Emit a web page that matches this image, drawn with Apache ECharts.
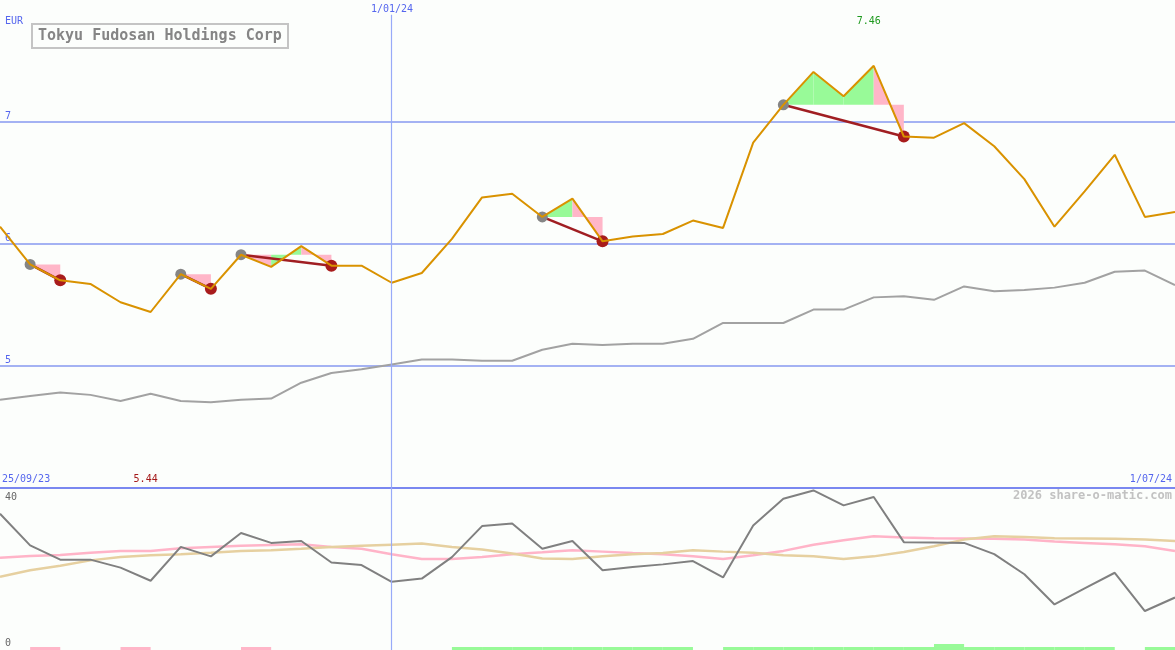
<!DOCTYPE html>
<html><head><meta charset="utf-8">
<script src="https://cdn.jsdelivr.net/npm/echarts@6/dist/echarts.min.js"></script>
<style>html,body{margin:0;padding:0;background:#fcfefc;overflow:hidden}#c{width:1175px;height:650px}</style>
</head><body><div id="c"></div><script>
// ---------- data ----------
const title = 'Tokyu Fudosan Holdings Corp';
const currency = 'EUR';
const startLabel = '25/09/23';
const midLabel = '1/01/24';
const endLabel = '1/07/24';
const midWeek = 13;          // week index of 1/01/24
const lastWeek = 39;         // week index of 1/07/24
const credit = '2026 share-o-matic.com';

const price = [6.14, 5.83, 5.70, 5.67, 5.52, 5.44, 5.75, 5.63, 5.91, 5.81,
               5.98, 5.82, 5.82, 5.68, 5.76, 6.04, 6.38, 6.41, 6.22, 6.37,
               6.02, 6.06, 6.08, 6.19, 6.13, 6.83, 7.14, 7.41, 7.21, 7.46,
               6.88, 6.87, 6.99, 6.80, 6.53, 6.14, 6.43, 6.73, 6.22, 6.26];
const average = [4.72, 4.75, 4.78, 4.76, 4.71, 4.77, 4.71, 4.70, 4.72, 4.73,
                 4.86, 4.94, 4.97, 5.01, 5.05, 5.05, 5.04, 5.04, 5.13, 5.18,
                 5.17, 5.18, 5.18, 5.22, 5.35, 5.35, 5.35, 5.46, 5.46, 5.56,
                 5.57, 5.54, 5.65, 5.61, 5.62, 5.64, 5.68, 5.77, 5.78, 5.66];
const oscMain = [36.6, 27.9, 24.0, 24.0, 21.8, 18.2, 27.5, 24.9, 31.3, 28.6,
                 29.1, 23.2, 22.5, 17.9, 18.8, 24.7, 33.2, 33.9, 27.0, 29.1,
                 21.1, 22.0, 22.7, 23.6, 19.1, 33.4, 40.7, 43.0, 38.9, 41.2,
                 28.8, 28.7, 28.6, 25.5, 20.0, 11.7, 16.1, 20.4, 9.9, 13.6];
const oscPink = [24.5, 25.0, 25.3, 25.9, 26.4, 26.4, 27.1, 27.5, 27.8, 28.0,
                 28.2, 27.5, 27.0, 25.5, 24.2, 24.2, 24.7, 25.5, 26.0, 26.6,
                 26.2, 25.8, 25.5, 24.9, 24.2, 25.2, 26.4, 28.1, 29.3, 30.4,
                 30.1, 29.9, 29.8, 29.7, 29.5, 29.0, 28.6, 28.2, 27.7, 26.4];
const oscTan = [19.3, 21.1, 22.3, 23.8, 24.7, 25.2, 25.5, 25.9, 26.4, 26.6,
                27.0, 27.5, 27.8, 28.1, 28.4, 27.5, 26.8, 25.7, 24.3, 24.2,
                24.9, 25.5, 25.8, 26.6, 26.2, 25.9, 25.2, 24.9, 24.2, 24.9,
                26.1, 27.7, 29.5, 30.4, 30.2, 29.9, 29.8, 29.7, 29.5, 29.1];
// trades: [entry week, exit week]
const trades = [[1, 2], [6, 7], [8, 11], [18, 20], [26, 30]];
// signal strip per weekly interval: 0 none, 1 sell(pink), 2 buy(green), 3 strong buy
const signalStrip = [0, 1, 0, 0, 1, 0, 0, 0, 1, 0,
                     0, 0, 0, 0, 0, 2, 2, 2, 2, 2,
                     2, 2, 2, 0, 2, 2, 2, 2, 2, 2,
                     2, 3, 2, 2, 2, 2, 2, 0, 2];
const priceTicks = [5, 6, 7];
const oscTicks = [0, 40];

// ---------- styles ----------
const MONO = '"DejaVu Sans Mono", monospace';
const BLUE_TXT = '#5566ee';
const GRID_BLUE = '#a4b2f3';
const SEP_BLUE = '#7a88f0';
const VLINE_BLUE = '#98aaf8';
const GREEN_FILL = '#98fa98';
const PINK_FILL = '#ffb6c8';

const chart = echarts.init(document.getElementById('c'), null, {renderer: 'canvas'});
const pairs = arr => arr.map((v, i) => [i, v]);

const maxIdx = price.indexOf(Math.max(...price));
const minIdx = price.indexOf(Math.min(...price));

const option = {
  backgroundColor: '#fcfefc',
  animation: false,
  grid: [
    {left: 0, right: 0, top: 0, height: 487.5},
    {left: 0, right: 0, top: 487.5, bottom: 0}
  ],
  xAxis: [
    {type: 'value', gridIndex: 0, min: 0, max: lastWeek, show: false},
    {type: 'value', gridIndex: 1, min: 0, max: lastWeek, position: 'top',
     axisLine: {show: true, onZero: false, lineStyle: {color: SEP_BLUE, width: 2}},
     axisTick: {show: false}, axisLabel: {show: false}, splitLine: {show: false}}
  ],
  yAxis: [
    {type: 'value', gridIndex: 0, min: 4, max: 8, interval: 1,
     axisLine: {show: false}, axisTick: {show: false},
     splitLine: {show: true, showMinLine: false, showMaxLine: false, lineStyle: {color: GRID_BLUE, width: 2}},
     axisLabel: {inside: true, margin: 5, verticalAlign: 'bottom', color: BLUE_TXT,
                 fontFamily: MONO, fontSize: 10,
                 formatter: v => priceTicks.includes(v) ? String(v) : ''}},
    {type: 'value', gridIndex: 1, min: -0.8, max: 43.8,
     show: false}
  ],
  graphic: [
    {type: 'text', left: 5, top: 16, style: {text: currency, fill: BLUE_TXT, font: '10px ' + MONO}},
    {type: 'rect', shape: {x: 32, y: 24, width: 256, height: 24},
     style: {fill: '#fcfefc', stroke: '#c4c4c4', lineWidth: 2}, z: 10},
    {type: 'text', x: 38, y: 36, z: 11,
     style: {text: title, fill: '#858585', font: 'bold 15px ' + MONO, verticalAlign: 'middle'}},
    {type: 'text', x: 392, y: 9, z: 11,
     style: {text: midLabel, fill: BLUE_TXT, font: '10px ' + MONO, align: 'center', verticalAlign: 'middle',
             backgroundColor: '#fcfefc'}},
    {type: 'text', x: 2, y: 479, z: 11,
     style: {text: startLabel, fill: BLUE_TXT, font: '10px ' + MONO, verticalAlign: 'middle'}},
    {type: 'text', x: 1172, y: 479, z: 11,
     style: {text: endLabel, fill: BLUE_TXT, font: '10px ' + MONO, align: 'right', verticalAlign: 'middle'}},
    {type: 'text', x: 1172, y: 496, z: 11,
     style: {text: credit, fill: '#c2c2c2', font: 'bold 12px ' + MONO, align: 'right', verticalAlign: 'middle'}}
  ],
  series: [
    // trade area fills
    {type: 'custom', xAxisIndex: 0, yAxisIndex: 0, z: 1,
     data: trades,
     renderItem(params, api) {
       const s = api.value(0), e = api.value(1);
       const E = price[s];
       const children = [];
       for (let k = s; k < e; k++) {
         const p0 = price[k], p1 = price[k + 1];
         children.push({type: 'polygon',
           shape: {points: [api.coord([k, p0]), api.coord([k, E]), api.coord([k + 1, E]), api.coord([k + 1, p1])]},
           style: {fill: p1 > E ? GREEN_FILL : PINK_FILL}});
       }
       return {type: 'group', children};
     }},
    // vertical date line top panel + moving average
    {type: 'line', xAxisIndex: 0, yAxisIndex: 0, z: 2, data: pairs(average),
     showSymbol: false, lineStyle: {color: '#a2a2a2', width: 2},
     markLine: {silent: true, symbol: 'none', label: {show: false},
       lineStyle: {color: VLINE_BLUE, width: 1.2, type: 'solid', opacity: 1},
       data: [[{coord: [midWeek, 7.88]}, {coord: [midWeek, 4]}]]}},
    // trade connectors + markers
    {type: 'custom', xAxisIndex: 0, yAxisIndex: 0, z: 3,
     data: trades,
     renderItem(params, api) {
       const s = api.value(0), e = api.value(1);
       const a = api.coord([s, price[s]]), b = api.coord([e, price[e]]);
       return {type: 'group', children: [
         {type: 'line', shape: {x1: a[0], y1: a[1], x2: b[0], y2: b[1]}, style: {stroke: '#a01e22', lineWidth: 2.5}},
         {type: 'circle', shape: {cx: a[0], cy: a[1], r: 5.5}, style: {fill: '#858585'}},
         {type: 'circle', shape: {cx: b[0], cy: b[1], r: 6}, style: {fill: '#a81c1c'}}
       ]};
     }},
    // price
    {type: 'line', xAxisIndex: 0, yAxisIndex: 0, z: 4, data: pairs(price),
     showSymbol: false, lineStyle: {color: '#d99200', width: 2}},
    // extreme labels
    {type: 'custom', xAxisIndex: 0, yAxisIndex: 0, z: 5,
     data: [[maxIdx, price[maxIdx], 1], [minIdx, price[minIdx], 0]],
     renderItem(params, api) {
       const isMax = api.value(2) === 1;
       const p = api.coord([api.value(0), api.value(1)]);
       return {type: 'text', x: p[0] - 5, y: isMax ? 21 : 479,
         style: {text: api.value(1).toFixed(2), fill: isMax ? '#1f9a1f' : '#a41818',
                 font: '10px ' + MONO, align: 'center', verticalAlign: 'middle'}};
     }},
    // lower panel
    {type: 'line', xAxisIndex: 1, yAxisIndex: 1, z: 2, data: pairs(oscPink),
     showSymbol: false, lineStyle: {color: '#ffb4c8', width: 2.5},
     markLine: {silent: true, symbol: 'none', label: {show: false},
       lineStyle: {color: VLINE_BLUE, width: 1.2, type: 'solid', opacity: 1},
       data: [{xAxis: midWeek}]}},
    {type: 'line', xAxisIndex: 1, yAxisIndex: 1, z: 2, data: pairs(oscTan),
     showSymbol: false, lineStyle: {color: '#e6d0a0', width: 2.5}},
    {type: 'line', xAxisIndex: 1, yAxisIndex: 1, z: 3, data: pairs(oscMain),
     showSymbol: false, lineStyle: {color: '#808080', width: 2}},
    // oscillator tick labels
    {type: 'custom', xAxisIndex: 1, yAxisIndex: 1, z: 5,
     data: oscTicks.map(v => [0, v]),
     renderItem(params, api) {
       const p = api.coord([0, api.value(1)]);
       return {type: 'text', x: 5, y: p[1] + 1,
         style: {text: String(api.value(1)), fill: '#666666', font: '10px ' + MONO, verticalAlign: 'bottom'}};
     }},
    // signal strip
    {type: 'custom', xAxisIndex: 1, yAxisIndex: 1, z: 4,
     data: signalStrip.map((s, i) => [i, s]).filter(d => d[1] > 0),
     renderItem(params, api) {
       const i = api.value(0), s = api.value(1);
       const a = api.coord([i, -0.8]), b = api.coord([i + 1, -0.8]);
       const h = s === 3 ? 6 : 3;
       return {type: 'rect', shape: {x: a[0], y: a[1] - h, width: b[0] - a[0], height: h},
         style: {fill: s === 1 ? PINK_FILL : GREEN_FILL}};
     }}
  ]
};
chart.setOption(option);
</script></body></html>
